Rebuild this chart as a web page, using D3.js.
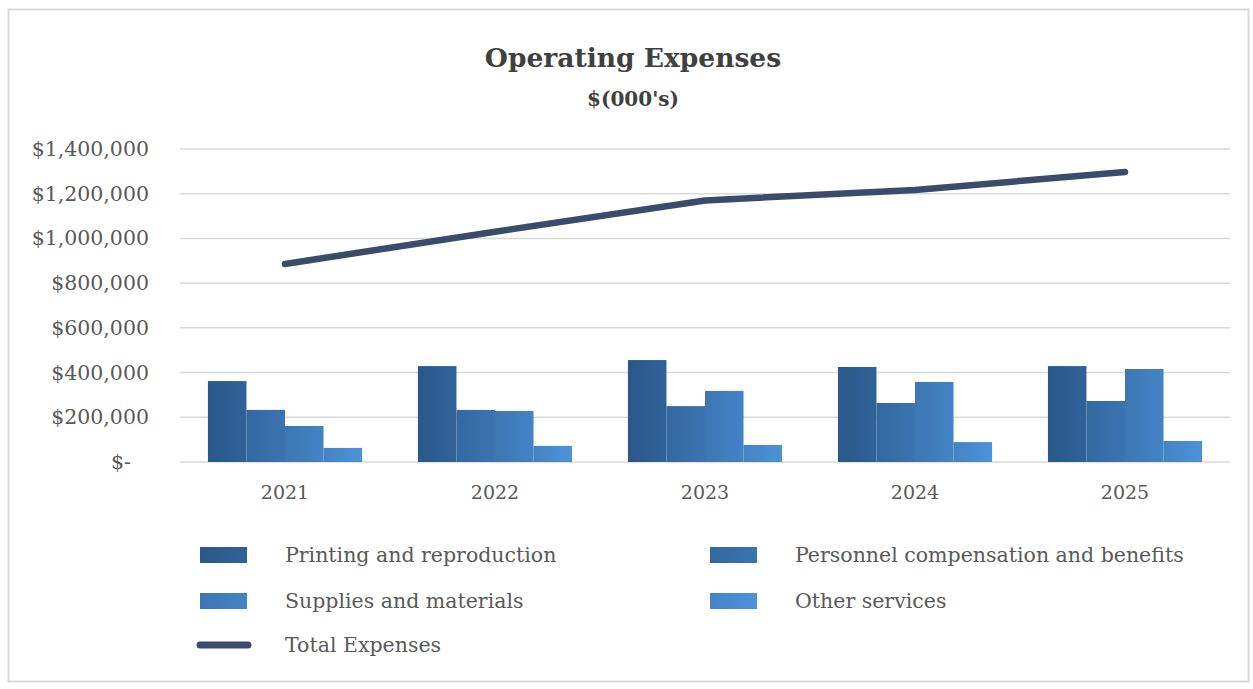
<!DOCTYPE html>
<html><head><meta charset="utf-8">
<script src="https://cdn.jsdelivr.net/npm/d3@7"></script>
<style>
html,body{margin:0;padding:0;background:#fff;}
svg{display:block;}
text{font-family:"DejaVu Serif","Liberation Serif",serif;}
</style></head>
<body><svg id="chart" width="1253" height="689"></svg>
<script>
const years = ["2021","2022","2023","2024","2025"];
const printing = [362000, 429000, 456000, 425000, 429000];
const personnel = [233000, 233000, 250000, 264000, 273000];
const supplies = [161000, 228000, 318000, 358000, 416000];
const otherServices = [63000, 72000, 76000, 89000, 94000];
const totalExpenses = [886000, 1030000, 1170000, 1217000, 1297000];
const yTicks = [0, 200000, 400000, 600000, 800000, 1000000, 1200000, 1400000];
const seriesNames = ["Printing and reproduction","Personnel compensation and benefits","Supplies and materials","Other services"];
const seriesColors = ["#2e5f94","#3870ab","#417fc0","#4a8dd2"];
const lineName = "Total Expenses";
const lineColor = "#3a4b6b";

const barSeries = [printing, personnel, supplies, otherServices];
const svg = d3.select("#chart");
const defs = svg.append("defs");
seriesColors.forEach((c,i)=>{
  const g = defs.append("linearGradient").attr("id","g"+i).attr("x1","0").attr("x2","1").attr("y1","0").attr("y2","0");
  g.append("stop").attr("offset","0%").attr("stop-color",d3.color(c).darker(0.2));
  g.append("stop").attr("offset","100%").attr("stop-color",d3.color(c).brighter(0.1));
});

// border
svg.append("rect").attr("x",8.5).attr("y",9.5).attr("width",1240).attr("height",672)
  .attr("fill","#fff").attr("stroke","#d9d9d9").attr("stroke-width",2);

const pLeft = 180, pRight = 1230, pTop = 149, pBottom = 462;
const x = d3.scaleBand().domain(years).range([pLeft,pRight]).paddingInner(0.266).paddingOuter(0.133);
const x1 = d3.scaleBand().domain(d3.range(4)).range([0,x.bandwidth()]);
const y = d3.scaleLinear().domain([0,1400000]).range([pBottom,pTop]);

// gridlines
svg.append("g").selectAll("line").data(yTicks).join("line")
  .attr("x1",pLeft).attr("x2",pRight).attr("y1",d=>y(d)).attr("y2",d=>y(d))
  .attr("stroke","#d9d9d9").attr("stroke-width",1.5);

// y axis labels
const fmt = d => d===0 ? "$-" : "$"+d3.format(",")(d);
const yAxis = d3.axisLeft(y).tickValues(yTicks).tickFormat(fmt).tickSize(0).tickPadding(0);
const ya = svg.append("g").attr("transform",`translate(149,0)`).call(yAxis);
ya.select(".domain").remove();
ya.selectAll("text").attr("font-size",20.5).attr("fill","#595959").attr("font-family","DejaVu Serif");
ya.selectAll(".tick").filter(d=>d===0).select("text").attr("dx",-18);

// x axis labels
const xAxis = d3.axisBottom(x).tickSize(0).tickPadding(0);
const xa = svg.append("g").attr("transform",`translate(0,${pBottom+30})`).call(xAxis);
xa.select(".domain").remove();
xa.selectAll("text").attr("font-size",19).attr("fill","#595959").attr("font-family","DejaVu Serif").attr("dy","0.35em");

// bars
years.forEach((yr,j)=>{
  barSeries.forEach((s,i)=>{
    svg.append("rect")
      .attr("x", x(yr)+x1(i)).attr("width", x1.bandwidth())
      .attr("y", y(s[j])).attr("height", y(0)-y(s[j]))
      .attr("fill", `url(#g${i})`);
  });
});

// line
const line = d3.line().x((d,i)=>x(years[i])+x.bandwidth()/2).y(d=>y(d));
svg.append("path").datum(totalExpenses).attr("d",line)
  .attr("fill","none").attr("stroke",lineColor).attr("stroke-width",6.5).attr("stroke-linecap","round").attr("stroke-linejoin","round");

// title
svg.append("text").attr("x",633).attr("y",67).attr("text-anchor","middle")
  .attr("font-size",26.5).attr("font-weight","bold").attr("fill","#404040").text("Operating Expenses");
svg.append("text").attr("x",633).attr("y",106).attr("text-anchor","middle")
  .attr("font-size",20).attr("font-weight","bold").attr("fill","#404040").text("$(000's)");

// legend
const legendItems = [
  {name:seriesNames[0], i:0, lx:200, ly:555},
  {name:seriesNames[1], i:1, lx:710, ly:555},
  {name:seriesNames[2], i:2, lx:200, ly:601},
  {name:seriesNames[3], i:3, lx:710, ly:601},
];
legendItems.forEach(d=>{
  svg.append("rect").attr("x",d.lx).attr("y",d.ly-8).attr("width",47).attr("height",16).attr("fill",`url(#g${d.i})`);
  svg.append("text").attr("x",d.lx+85).attr("y",d.ly).attr("dy","0.35em")
    .attr("font-size",20.5).attr("fill","#595959").text(d.name);
});
svg.append("line").attr("x1",200).attr("x2",248).attr("y1",645).attr("y2",645)
  .attr("stroke",lineColor).attr("stroke-width",7).attr("stroke-linecap","round");
svg.append("text").attr("x",285).attr("y",645).attr("dy","0.35em")
  .attr("font-size",20.5).attr("fill","#595959").text(lineName);
</script></body></html>
